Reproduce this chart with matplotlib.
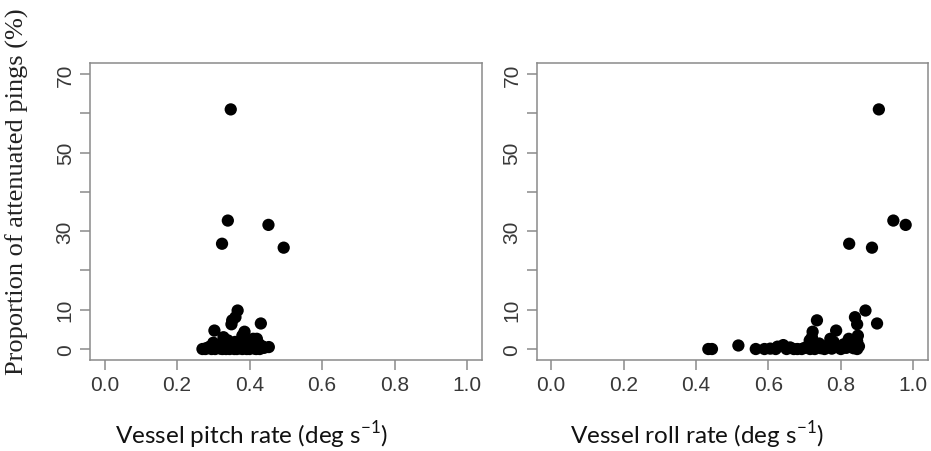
import matplotlib
matplotlib.use('Agg')
import matplotlib.pyplot as plt

plt.rcParams['font.family'] = ['Liberation Sans', 'DejaVu Sans']
plt.rcParams['mathtext.fontset'] = 'custom'
plt.rcParams['mathtext.rm'] = 'Lato'

# proportion of attenuated pings (%) per survey, shared by both panels
atten_pct = [61.0, 32.7, 31.6, 26.8, 25.8, 9.8, 8.1, 7.3, 6.5, 6.3,
             4.7, 4.4, 3.4, 3.0, 2.6, 2.6, 2.2, 2.0, 1.8, 1.6,
             1.4, 1.2, 1.0, 0.9, 0.8, 0.7, 0.6, 0.5, 0.5, 0.4,
             0.3, 0.3, 0.2, 0.2, 0.1, 0.1, 0.0, 0.0, 0.0, 0.0,
             0.0, 0.0, 0.0, 0.0, 0.0, 0.0, 0.0, 0.0, 0.0, 0.0]
pitch_rate = [0.348, 0.340, 0.452, 0.324, 0.494, 0.367, 0.361, 0.352, 0.431, 0.350,
              0.303, 0.386, 0.380, 0.328, 0.410, 0.420, 0.340, 0.395, 0.360, 0.300,
              0.425, 0.370, 0.315, 0.405, 0.345, 0.435, 0.290, 0.453, 0.355, 0.310,
              0.390, 0.440, 0.280, 0.375, 0.320, 0.415, 0.270, 0.278, 0.295, 0.305,
              0.335, 0.345, 0.365, 0.380, 0.400, 0.418, 0.428, 0.325, 0.358, 0.392]
roll_rate = [0.905, 0.945, 0.979, 0.823, 0.886, 0.868, 0.839, 0.734, 0.900, 0.845,
             0.787, 0.722, 0.847, 0.720, 0.771, 0.822, 0.714, 0.845, 0.780, 0.830,
             0.740, 0.808, 0.641, 0.517, 0.760, 0.850, 0.625, 0.790, 0.730, 0.660,
             0.815, 0.700, 0.745, 0.835, 0.605, 0.775, 0.434, 0.444, 0.565, 0.589,
             0.620, 0.650, 0.670, 0.680, 0.692, 0.715, 0.728, 0.755, 0.800, 0.845]

x_ticks = [0.0, 0.2, 0.4, 0.6, 0.8, 1.0]
y_ticks = [0, 10, 20, 30, 40, 50, 60, 70]
y_labels = ['0', '10', '', '30', '', '50', '', '70']
x_titles = ['Vessel pitch rate (deg s$^{\\mathregular{-1}}$)',
            'Vessel roll rate (deg s$^{\\mathregular{-1}}$)']
title_x = [0.2707, 0.7487]

frame_col = '#8a8a8a'
text_col = '#383838'

fig = plt.figure(figsize=(9.31, 4.52), dpi=100)
ax1 = fig.add_axes([0.0967, 0.2013, 0.4207, 0.657])
ax2 = fig.add_axes([0.5765, 0.2013, 0.4200, 0.657])

for ax, xs, title, tx in [(ax1, pitch_rate, x_titles[0], title_x[0]),
                          (ax2, roll_rate, x_titles[1], title_x[1])]:
    ax.scatter(xs, atten_pct, s=78, color='black', edgecolors='none', zorder=3)
    ax.set_xlim(-0.04, 1.04)
    ax.set_ylim(-2.8, 72.8)
    ax.set_xticks(x_ticks)
    ax.set_xticklabels(['%.1f' % t for t in x_ticks])
    ax.set_yticks(y_ticks)
    ax.set_yticklabels(y_labels, rotation=90, va='center')
    ax.tick_params(direction='out', length=7, width=1.1, color=frame_col,
                   labelcolor=text_col, labelsize=15, pad=4)
    for sp in ax.spines.values():
        sp.set_color(frame_col)
        sp.set_linewidth(1.1)
    fig.text(tx, 0.002, title, ha='center', va='bottom', fontsize=17.5,
             color='#111111', family='Lato')

fig.text(0.019, 0.575, 'Proportion of attenuated pings (%)', rotation=90,
         ha='center', va='center', fontsize=19, color='#222222',
         family=['Liberation Serif', 'DejaVu Serif'])

fig.savefig('out.png', dpi=100)
